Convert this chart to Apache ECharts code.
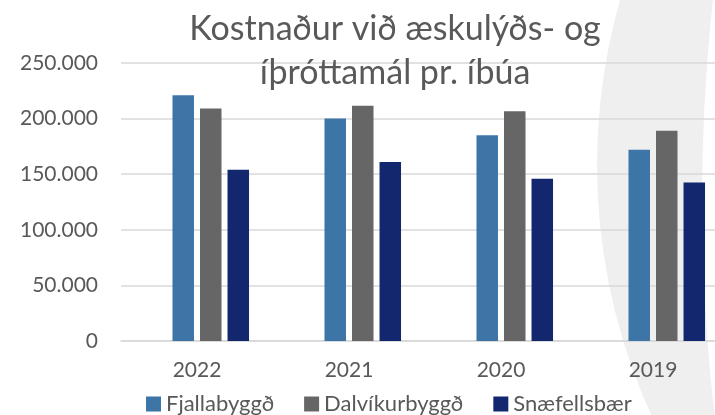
<!DOCTYPE html>
<html>
<head>
<meta charset="utf-8">
<script src="https://cdn.jsdelivr.net/npm/echarts@6/dist/echarts.min.js"></script>
<style>
  html, body { margin: 0; padding: 0; background: #fff; overflow: hidden; }
  /* plot area in the original runs past the right edge, so the canvas is a bit wider than the window */
  #chart { width: 729px; height: 415px; }
</style>
</head>
<body>
<div id="chart"></div>
<script>
// gögn lesin af myndinni
var years = ['2022', '2021', '2020', '2019']
var fjallabyggd = [221000, 200000, 185000, 172000]
var dalvikurbyggd = [209000, 211500, 206500, 189000]
var snaefellsbaer = [154000, 161000, 146000, 142500]
var seriesNames = ['Fjallabyggð', 'Dalvíkurbyggð', 'Snæfellsbær']
var seriesColors = ['#3c75a6', '#666666', '#13276e']
var yMin = 0
var yMax = 250000
var yStep = 50000

var font = 'Lato, "Open Sans", sans-serif'
var textColor = '#595959'

function fmt (v) {
  return String(v).replace(/\B(?=(\d{3})+(?!\d))/g, '.')
}

var myChart = echarts.init(document.getElementById('chart'))

myChart.setOption({
  backgroundColor: '#ffffff',
  textStyle: { fontFamily: font },
  title: {
    text: 'Kostnaður við æskulýðs- og\níþróttamál pr. íbúa',
    left: 390,
    top: 2,
    textAlign: 'center',
    textStyle: {
      fontFamily: font,
      fontSize: 34,
      fontWeight: 'normal',
      color: textColor,
      lineHeight: 44
    }
  },
  // ljósgrái boginn í bakgrunni
  graphic: [{
    type: 'circle',
    z: -10,
    shape: { cx: 1200, cy: 165, r: 603 },
    style: { fill: '#efefef' },
    silent: true
  }, {
    type: 'circle',
    z: -9,
    shape: { cx: 2526, cy: 200, r: 1824 },
    style: { fill: '#ffffff' },
    silent: true
  }],
  legend: {
    data: seriesNames,
    left: 146,
    top: 393,
    icon: 'rect',
    itemWidth: 15,
    itemHeight: 15,
    itemGap: 30,
    padding: 0,
    textStyle: { fontFamily: font, fontSize: 22, color: textColor }
  },
  grid: {
    left: 121,
    top: 63,
    bottom: 74,
    right: 0
  },
  xAxis: {
    type: 'category',
    data: years,
    axisLine: { lineStyle: { color: '#d9d9d9', width: 1.5 } },
    axisTick: { show: false },
    axisLabel: { margin: 19, fontSize: 21, color: textColor, fontFamily: font }
  },
  yAxis: {
    type: 'value',
    min: yMin,
    max: yMax,
    interval: yStep,
    axisLine: { show: false },
    axisTick: { show: false },
    splitLine: { lineStyle: { color: '#d9d9d9', width: 1.5 } },
    axisLabel: { margin: 23, fontSize: 21, color: textColor, fontFamily: font, formatter: fmt }
  },
  series: [{
    // tómur flokkur eins og í upprunalega Excel-ritinu
    name: 'auður',
    type: 'bar',
    barWidth: 21.5,
    barGap: '28%',
    data: []
  }, {
    name: seriesNames[0],
    type: 'bar',
    barWidth: 21.5,
    barGap: '28%',
    itemStyle: { color: seriesColors[0] },
    data: fjallabyggd
  }, {
    name: seriesNames[1],
    type: 'bar',
    barWidth: 21.5,
    barGap: '28%',
    itemStyle: { color: seriesColors[1] },
    data: dalvikurbyggd
  }, {
    name: seriesNames[2],
    type: 'bar',
    barWidth: 21.5,
    barGap: '28%',
    itemStyle: { color: seriesColors[2] },
    data: snaefellsbaer
  }]
})
</script>
</body>
</html>
